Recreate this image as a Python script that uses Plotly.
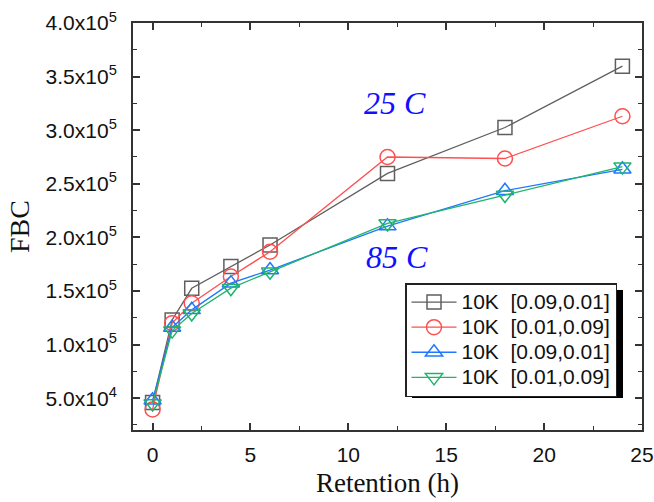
import plotly.graph_objects as go

# ---- data ----
retention_h = [0, 1, 2, 4, 6, 12, 18, 24]
fbc_sq = [46000, 123000, 152500, 172800, 192900, 259700, 302500, 359700]
fbc_circle = [39500, 120000, 138500, 163500, 186600, 275000, 273600, 313000]
fbc_up = [48000, 116000, 132400, 157300, 169500, 210500, 243500, 263500]
fbc_down = [45000, 113000, 129000, 152600, 167900, 213000, 239500, 266000]
series_names = ["10K  [0.09,0.01]", "10K  [0.01,0.09]", "10K  [0.09,0.01]", "10K  [0.01,0.09]"]
y_tickvals = [50000, 100000, 150000, 200000, 250000, 300000, 350000, 400000]
y_ticktext = ["5.0x10<sup>4</sup>", "1.0x10<sup>5</sup>", "1.5x10<sup>5</sup>", "2.0x10<sup>5</sup>",
              "2.5x10<sup>5</sup>", "3.0x10<sup>5</sup>", "3.5x10<sup>5</sup>", "4.0x10<sup>5</sup>"]
x_tickvals = [0, 5, 10, 15, 20, 25]

colors = ["#5f5f5f", "#ff4f4f", "#1f78ff", "#1fb46c"]
symbols = ["square-open", "circle-open", "triangle-up-open", "triangle-down-open"]
ys = [fbc_sq, fbc_circle, fbc_up, fbc_down]
sizes = [14, 15, 15, 15]

fig = go.Figure()
for name, y, c, s, sz in zip(series_names, ys, colors, symbols, sizes):
    fig.add_trace(go.Scatter(
        x=retention_h, y=y, name='<span style="font-size:21px">' + name + '</span>',
        mode="lines+markers",
        line=dict(color=c, width=1.3),
        marker=dict(symbol=s, size=sz, color=c, line=dict(color=c, width=1.5)),
    ))

axis_common = dict(
    showline=True, linecolor="#333333", linewidth=2, mirror="allticks",
    ticks="inside", ticklen=7, tickwidth=1.5, tickcolor="#333333",
    showgrid=False, zeroline=False, automargin=False,
    tickfont=dict(family="Liberation Sans, Arial", size=21, color="#111111"),
)

fig.update_xaxes(
    range=[-1, 25], tickvals=x_tickvals,
    minor=dict(ticks="inside", ticklen=4, dtick=2.5, tick0=0, tickcolor="#333333", tickwidth=1.2),
    title=dict(text="Retention (h)", font=dict(family="Liberation Serif, Times New Roman", size=27, color="#111111"), standoff=8),
    ticklabelstandoff=5,
    **axis_common,
)
fig.update_yaxes(
    range=[20300, 400000], tickvals=y_tickvals, ticktext=y_ticktext,
    minor=dict(ticks="inside", ticklen=4, dtick=25000, tick0=0, tickcolor="#333333", tickwidth=1.2),
    title=dict(text="FBC", font=dict(family="Liberation Serif, Times New Roman", size=28, color="#111111"), standoff=8),
    ticklabelstandoff=10,
    **axis_common,
)

fig.add_annotation(x=12.4, y=325000, xref="x", yref="y", text="<i>25 C</i>", showarrow=False,
                   font=dict(family="Liberation Serif, Times New Roman", size=32, color="#1010ff"))
fig.add_annotation(x=12.5, y=182000, xref="x", yref="y", text="<i>85 C</i>", showarrow=False,
                   font=dict(family="Liberation Serif, Times New Roman", size=32, color="#1010ff"))

# legend shadow (paper coords); plot area: x 133..642, y 23..430
L, T, W, H = 133, 23, 509, 407
def px_x(p):
    return (p - L) / W
def px_y(p):
    return 1 - (p - T) / H

fig.add_shape(type="rect", xref="paper", yref="paper",
              x0=px_x(412), x1=px_x(623), y0=px_y(398), y1=px_y(290),
              fillcolor="black", line=dict(width=0), layer="above")

fig.update_layout(
    width=654, height=502,
    margin=dict(l=133, r=12, t=23, b=72, autoexpand=False),
    plot_bgcolor="white", paper_bgcolor="white",
    showlegend=True,
    legend=dict(
        x=px_x(405), y=px_y(283), xanchor="left", yanchor="top",
        bgcolor="white", bordercolor="#222222", borderwidth=1.5,
        font=dict(family="Liberation Sans, Arial", size=17, color="#111111"),
        itemwidth=45, tracegroupgap=0,
    ),
)

fig.write_html("out.html")
